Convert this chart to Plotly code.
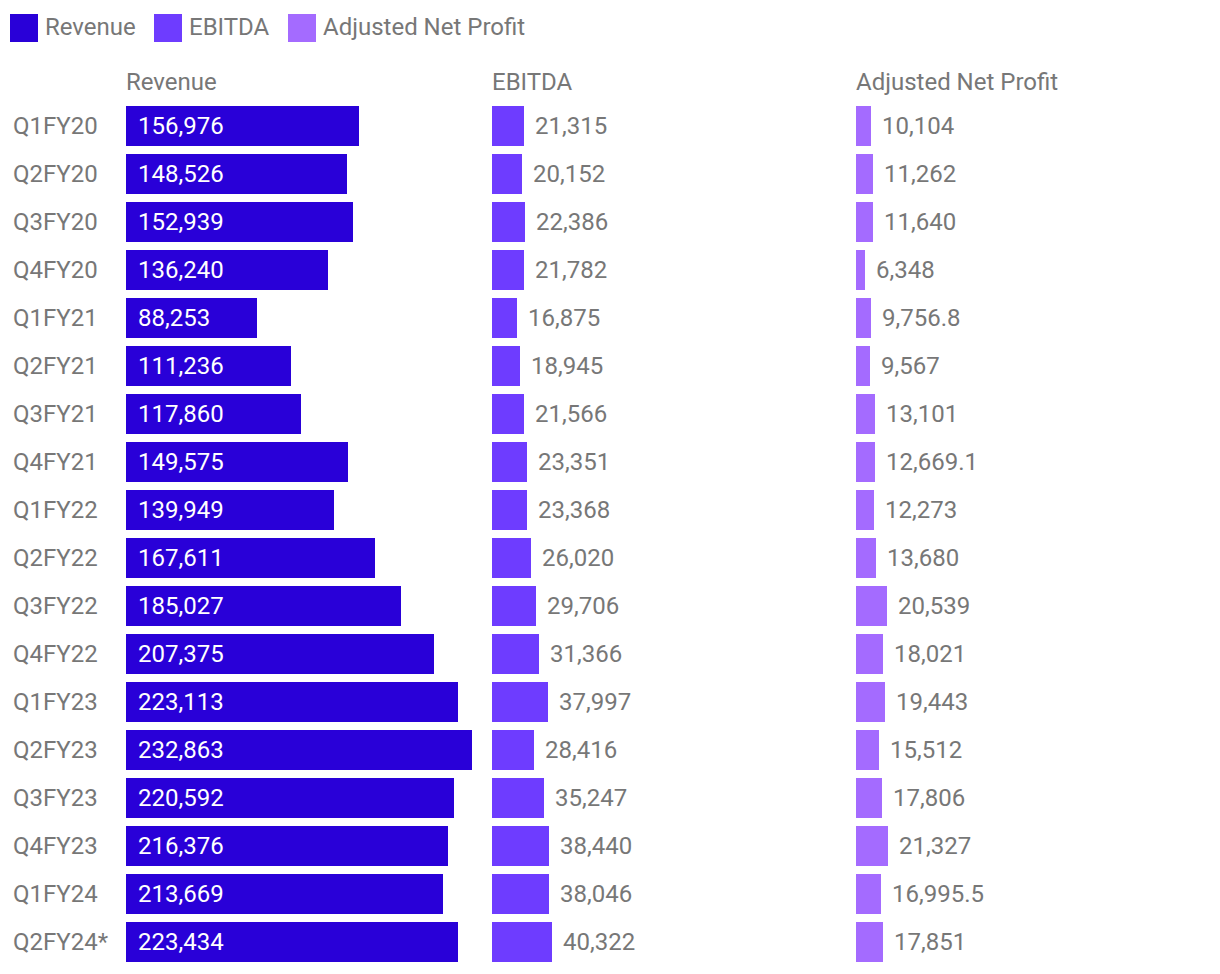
import plotly.graph_objects as go
from plotly.subplots import make_subplots

quarters = ["Q1FY20", "Q2FY20", "Q3FY20", "Q4FY20", "Q1FY21", "Q2FY21",
            "Q3FY21", "Q4FY21", "Q1FY22", "Q2FY22", "Q3FY22", "Q4FY22",
            "Q1FY23", "Q2FY23", "Q3FY23", "Q4FY23", "Q1FY24", "Q2FY24*"]
revenue = [156976, 148526, 152939, 136240, 88253, 111236, 117860, 149575, 139949,
           167611, 185027, 207375, 223113, 232863, 220592, 216376, 213669, 223434]
ebitda = [21315, 20152, 22386, 21782, 16875, 18945, 21566, 23351, 23368,
          26020, 29706, 31366, 37997, 28416, 35247, 38440, 38046, 40322]
net_profit = [10104, 11262, 11640, 6348, 9756.8, 9567, 13101, 12669.1, 12273,
              13680, 20539, 18021, 19443, 15512, 17806, 21327, 16995.5, 17851]

series = [("Revenue", revenue, "#2900d8"),
          ("EBITDA", ebitda, "#6e3cff"),
          ("Adjusted Net Profit", net_profit, "#a46bff")]

W, H = 1220, 974
OFF = 8          # page body margin
FONT = "Roboto"
GREY = "#777777"
FS = 24

TOP = 102 - OFF  # top of plot area in px
PH = 864         # plot height

# column positions in pixels
col_left = [126 - OFF, 492 - OFF, 856 - OFF]
col_width = 346
xmax = max(revenue)

fig = make_subplots(rows=1, cols=3, shared_yaxes=True, horizontal_spacing=0)

for i, (name, vals, color) in enumerate(series):
    fig.add_trace(go.Bar(
        y=quarters, x=vals, orientation="h", name=name,
        marker=dict(color=color, line=dict(width=0)),
        width=40 / 48, hoverinfo="x+y", showlegend=False,
    ), row=1, col=i + 1)

    xa = "xaxis" if i == 0 else f"xaxis{i + 1}"
    fig.layout[xa].update(
        domain=[col_left[i] / W, (col_left[i] + col_width) / W],
        range=[0, xmax], visible=False, fixedrange=True)

    xref = "x" if i == 0 else f"x{i + 1}"
    yref = "y" if i == 0 else f"y{i + 1}"
    for q, v in zip(quarters, vals):
        if i == 0:
            fig.add_annotation(x=0, y=q, xref=xref, yref=yref, text=f"{v:,}",
                               showarrow=False, xanchor="left", xshift=10,
                               font=dict(family=FONT, size=FS, color="white"))
        else:
            fig.add_annotation(x=v, y=q, xref=xref, yref=yref, text=f"{v:,}",
                               showarrow=False, xanchor="left", xshift=9,
                               font=dict(family=FONT, size=FS, color=GREY))

    # column header
    fig.add_annotation(x=col_left[i] / W, y=1, xref="paper", yref="paper",
                       text=name, showarrow=False, xanchor="left", yanchor="bottom",
                       xshift=-2, yshift=4,
                       font=dict(family=FONT, size=FS, color=GREY))

# row labels
for q in quarters:
    fig.add_annotation(x=(13 - OFF) / W, y=q, xref="paper", yref="y", text=q,
                       showarrow=False, xanchor="left", xshift=-2,
                       font=dict(family=FONT, size=FS, color=GREY))

# legend drawn by hand at the top
legend_x = [10, 154, 288]
for (name, vals, color), lx in zip(series, legend_x):
    lx -= OFF
    fig.add_shape(type="rect", xref="paper", yref="paper",
                  x0=lx / W, x1=(lx + 28) / W,
                  y0=1 + (TOP - (42 - OFF)) / PH, y1=1 + (TOP - (14 - OFF)) / PH,
                  fillcolor=color, line=dict(width=0))
    fig.add_annotation(x=(lx + 33) / W, y=1 + (TOP - (27 - OFF)) / PH,
                       xref="paper", yref="paper", text=name, showarrow=False,
                       xanchor="left", yanchor="middle",
                       font=dict(family=FONT, size=FS, color=GREY))

for ya in ["yaxis", "yaxis2", "yaxis3"]:
    fig.layout[ya].update(autorange="reversed", showticklabels=False,
                          showgrid=False, zeroline=False, fixedrange=True)

fig.update_layout(
    width=W, height=H,
    margin=dict(l=0, r=0, t=TOP, b=H - TOP - PH),
    paper_bgcolor="white", plot_bgcolor="white",
    bargap=0, showlegend=False,
    font=dict(family=FONT, size=FS, color=GREY),
)

fig.write_html("out.html")
